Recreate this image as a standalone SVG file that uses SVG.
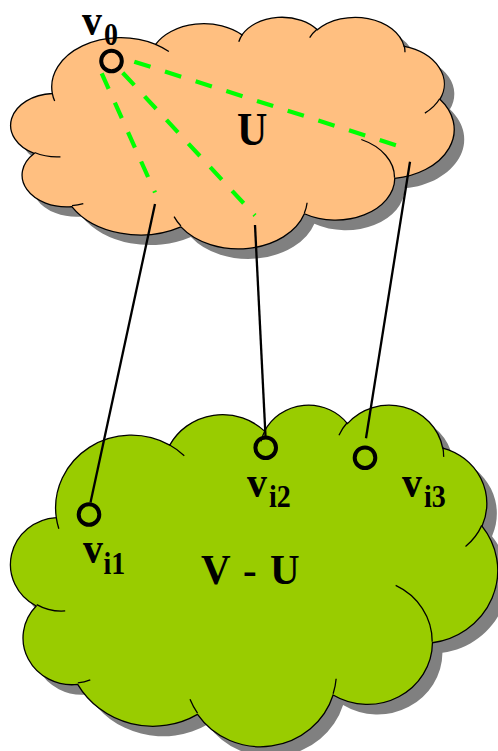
<svg xmlns="http://www.w3.org/2000/svg" xmlns:xlink="http://www.w3.org/1999/xlink" width="498" height="751" viewBox="0 0 498 751">
<style>
.shadow{fill:#808080;stroke:none}
.body{stroke:#000;stroke-width:1.3}
.inner{fill:none;stroke:#000;stroke-width:1.3}
.lbl{font-family:"Liberation Serif","Times New Roman",serif;font-weight:bold;fill:#000}
.node{fill:none;stroke:#000;stroke-width:4}
.dash{fill:none;stroke:#00FF00;stroke-width:4.2;stroke-dasharray:17 15.2}
.edge{fill:none;stroke:#000;stroke-width:2.3}
</style>
<defs>
<path id="cloudOutline" vector-effect="non-scaling-stroke" d="M3900 14370 A6753 9190 0 0 1 14005 5202 A5333 7267 0 0 1 22456 3432 A4365 5945 0 0 1 29833 2481 A4857 6595 0 0 1 38318 5576 A5333 7273 0 0 1 41819 15460 A6775 9220 0 0 1 37405 30203 A5785 7867 0 0 1 28557 36813 A6752 9215 0 0 1 16481 39264 A7720 10543 0 0 1 5806 35470 A4360 5918 0 0 1 2114 25548 A4345 5945 0 0 1 3900 14370 Z"/>
<path id="cloudInner" vector-effect="non-scaling-stroke" d="M4693 26177 A4345 5945 0 0 1 2157 25378 M6928 34899 A4360 5918 0 0 1 5820 35280 M16478 39090 A6752 9215 0 0 1 15810 37350 M28827 34751 A6752 9215 0 0 1 28560 36660 M34129 22954 A5785 7867 0 0 1 37380 30090 M41798 15354 A5333 7273 0 0 1 40350 18030 M38324 5426 A4857 6595 0 0 1 38400 6690 M29078 3952 A4857 6595 0 0 1 29820 2341 M22141 4720 A4365 5945 0 0 1 22500 3330 M14000 5192 A6753 9190 0 0 1 15300 6540 M4127 15789 A6753 9190 0 0 1 3900 14370"/>
</defs>

<g id="cloud-U">
  <use xlink:href="#cloudOutline" class="shadow" transform="translate(22.5,26.5) scale(0.010220,0.005359)"/>
  <g transform="translate(12.5,16.5) scale(0.010220,0.005359)">
    <use xlink:href="#cloudOutline" class="body" fill="#FFBF80"/>
    <use xlink:href="#cloudInner" class="inner"/>
  </g>
  <text class="lbl" font-size="42" transform="translate(237,145) scale(1,1.1)">U</text>
</g>

<g id="cloud-VU">
  <use xlink:href="#cloudOutline" class="shadow" transform="translate(22.5,414) scale(0.011227,0.007905)"/>
  <g transform="translate(12.5,404) scale(0.011227,0.007905)">
    <use xlink:href="#cloudOutline" class="body" fill="#99CC00"/>
    <use xlink:href="#cloudInner" class="inner"/>
  </g>
  <text class="lbl" font-size="41" transform="translate(201,584) scale(1,1.05)" word-spacing="3">V - U</text>
</g>

<g id="connectors">
  <line class="dash" x1="101.7" y1="73.3" x2="155" y2="192.5"/>
  <line class="dash" x1="122.7" y1="72.7" x2="255" y2="215.5"/>
  <line class="dash" x1="134.3" y1="61.7" x2="398.3" y2="146"/>
  <line class="edge" x1="155" y1="204" x2="90.5" y2="502.5"/>
  <line class="edge" x1="255" y1="225" x2="265.5" y2="436"/>
  <line class="edge" x1="410" y1="161.7" x2="366" y2="438.3"/>
</g>

<g id="node-v0">
  <circle class="node" cx="111.5" cy="61" r="10.3"/>
  <text class="lbl" font-size="40" transform="translate(82,35) scale(1,1.1)">v<tspan x="22" y="9.1" font-size="28">0</tspan></text>
</g>
<g id="node-vi1">
  <circle class="node" cx="89" cy="514.5" r="10.3"/>
  <text class="lbl" font-size="40" transform="translate(83,563) scale(1,1.1)">v<tspan x="20.5" y="10" font-size="28">i1</tspan></text>
</g>
<g id="node-vi2">
  <circle class="node" cx="265.7" cy="447.7" r="10.3"/>
  <text class="lbl" font-size="40" transform="translate(247,497) scale(1,1.1)">v<tspan x="22" y="9.1" font-size="28">i2</tspan></text>
</g>
<g id="node-vi3">
  <circle class="node" cx="365" cy="457.7" r="10.3"/>
  <text class="lbl" font-size="40" transform="translate(402,497) scale(1,1.1)">v<tspan x="22" y="9.1" font-size="28">i3</tspan></text>
</g>
</svg>
